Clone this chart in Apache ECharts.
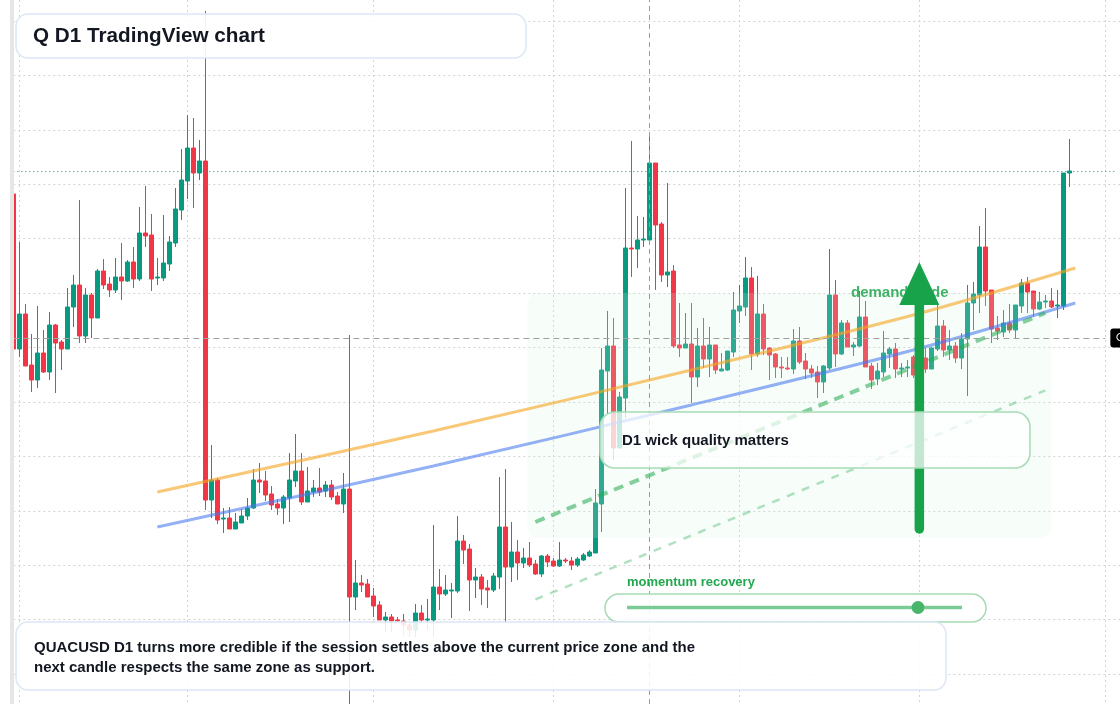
<!DOCTYPE html>
<html>
<head>
<meta charset="utf-8">
<script src="https://cdn.jsdelivr.net/npm/echarts@6/dist/echarts.min.js"></script>
<style>
html,body{margin:0;padding:0;background:#ffffff;}
#chart{width:1120px;height:704px;}
</style>
</head>
<body>
<div id="chart"></div>
<script>
// ---------- DATA ----------
// daily categories: 2025-01-31 .. 2025-08-03 (candles up to 2025-07-26)
const firstDay = '2025-01-31';
const dayCount = 185;

const opens = [
91.0,75.5,79.0,73.9,72.4,75.1,73.2,77.9,76.2,75.5,
79.7,81.9,76.8,80.9,78.6,83.3,82.0,81.4,82.7,82.3,
84.2,82.5,87.1,86.9,82.6,82.6,84.0,86.1,89.4,92.3,
95.6,93.1,94.3,60.4,62.4,58.5,58.6,57.5,58.1,58.8,
59.6,62.4,62.3,61.0,60.0,59.6,60.6,62.3,63.3,60.2,
61.2,61.6,61.3,61.9,60.8,60.0,61.5,50.7,52.1,52.0,
50.8,49.9,48.4,48.7,48.4,48.3,47.9,47.4,49.1,48.4,
48.4,51.7,51.0,51.3,51.3,56.3,55.5,52.4,52.7,51.6,
51.4,52.7,57.7,53.7,55.2,54.1,54.6,54.0,53.0,54.8,
54.3,53.8,54.4,54.3,53.9,54.4,54.8,55.1,60.0,73.3,
75.8,65.6,70.6,85.6,85.5,86.4,86.4,94.1,88.0,82.9,
83.3,75.9,75.6,76.0,72.7,75.8,74.5,75.9,73.3,73.4,
75.2,79.3,79.7,82.6,75.0,79.0,75.6,75.0,73.7,73.6,
73.5,76.3,74.3,73.5,73.2,72.2,73.6,80.9,75.0,78.1,
75.7,75.8,78.7,73.8,72.5,73.2,75.0,75.5,73.5,73.6,
74.7,72.9,74.6,73.5,75.5,77.8,75.4,75.8,74.6,76.5,
80.1,80.9,85.7,81.4,77.6,77.2,78.1,77.4,79.8,82.1,
81.3,79.5,80.2,80.3,79.8,79.8,93.1
];
const closes = [
75.5,79.0,73.8,72.4,75.1,73.2,77.9,76.1,75.5,79.7,
81.9,76.8,80.9,78.6,83.3,81.9,81.4,82.7,82.3,84.2,
82.5,87.1,86.8,82.5,82.7,84.1,86.2,89.5,92.4,95.6,
93.1,94.3,60.4,62.4,58.4,58.6,57.5,58.2,58.8,59.6,
62.4,62.2,60.9,59.9,59.6,60.7,62.4,63.3,60.2,61.3,
61.6,61.2,61.9,60.7,60.0,61.5,50.7,52.1,51.9,50.7,
49.8,48.4,48.7,48.3,48.3,47.9,47.4,49.1,48.4,48.5,
51.7,51.0,51.4,51.4,56.3,55.4,52.4,52.7,51.5,51.4,
52.8,57.7,53.7,55.2,54.1,54.6,53.9,53.0,54.8,54.2,
53.8,54.4,54.3,53.9,54.5,54.9,55.2,60.1,73.4,75.8,
65.6,70.7,85.6,85.5,86.4,86.5,94.1,87.9,82.9,83.2,
75.8,75.6,76.0,72.7,75.8,74.5,75.9,73.4,73.5,75.3,
79.4,79.8,82.6,75.0,79.0,75.5,74.9,73.7,73.6,73.5,
76.3,74.2,73.5,73.1,72.2,73.8,80.9,75.0,78.1,75.7,
75.9,78.7,73.7,72.4,73.3,75.1,75.5,73.5,73.6,73.7,
72.9,74.2,73.5,75.6,77.8,75.4,75.8,74.6,76.5,80.1,
81.0,85.7,81.3,77.5,77.3,78.1,77.4,79.9,82.1,81.2,
79.5,80.2,80.3,79.7,79.9,93.1,93.3
];
const lows = [
75.4,74.7,73.8,71.2,71.6,73.1,72.4,71.1,73.4,75.5,
77.7,76.1,76.1,76.6,78.6,81.5,80.7,81.1,80.4,82.2,
81.6,82.3,85.7,81.3,81.9,82.3,83.3,85.7,88.4,90.5,
89.6,92.4,59.4,58.6,58.0,57.1,57.5,57.5,58.1,58.4,
59.5,61.1,60.3,59.4,58.9,58.0,58.2,61.7,59.9,60.2,
60.7,60.8,60.7,60.4,60.0,59.1,39.8,49.4,51.2,50.7,
48.7,48.4,47.2,47.2,48.1,46.9,46.7,46.7,48.1,47.4,
46.7,49.4,50.8,48.6,51.1,54.0,49.3,50.6,49.9,49.6,
51.2,51.5,48.1,52.2,52.4,53.6,53.7,52.9,52.7,53.7,
53.7,53.7,54.1,53.4,53.7,54.3,54.7,55.1,57.2,68.9,
64.4,65.6,68.6,82.7,83.6,85.7,86.1,81.4,82.2,81.7,
75.6,74.7,75.6,70.1,71.7,73.6,72.7,73.0,73.3,73.3,
74.7,78.1,78.8,73.4,74.7,74.9,72.4,72.6,72.6,73.4,
73.0,74.0,72.5,72.6,70.6,71.1,73.4,73.7,74.9,75.7,
74.8,75.7,73.7,71.5,71.9,72.7,73.6,72.6,72.7,72.7,
72.6,72.6,73.1,73.5,75.3,74.7,74.4,74.1,73.5,70.8,
77.4,79.1,79.8,76.1,76.4,76.7,77.1,76.6,79.1,79.1,
78.7,79.4,79.6,79.6,78.6,79.4,91.7
];
const highs = [
91.1,86.2,80.0,77.0,79.8,77.4,79.2,78.0,76.4,81.6,
82.9,90.4,81.6,81.1,83.5,84.5,82.7,84.6,86.1,84.4,
85.7,89.7,91.8,89.0,84.6,88.9,86.8,91.6,95.5,98.9,
98.6,96.4,109.3,65.9,62.6,59.6,59.7,59.1,59.5,60.6,
63.5,64.1,63.3,61.8,60.5,60.9,65.1,67.0,65.1,63.7,
62.4,63.6,62.3,62.4,61.2,63.1,76.9,54.4,52.9,52.5,
51.6,50.3,49.2,49.0,48.7,49.0,48.1,50.0,49.9,50.5,
57.9,53.5,52.9,52.1,58.8,56.9,56.0,53.6,53.0,52.4,
53.1,62.7,63.5,58.2,56.4,55.6,56.2,54.4,54.9,55.0,
54.6,56.2,54.6,54.7,54.7,55.1,55.4,61.5,75.6,79.3,
78.6,71.2,91.6,96.3,88.8,88.7,97.0,94.1,88.2,92.1,
83.9,80.1,79.1,80.1,77.6,78.6,77.7,75.9,75.1,75.3,
81.2,81.9,84.7,83.7,82.8,80.0,75.7,75.1,74.7,74.7,
77.5,77.7,75.1,73.9,73.8,73.9,85.5,82.4,78.4,78.4,
76.2,81.3,80.3,74.1,74.1,77.3,75.7,76.1,74.1,74.4,
74.9,74.9,75.6,75.7,80.1,78.4,77.4,76.2,77.1,81.9,
82.2,87.8,89.6,81.4,78.8,79.4,80.0,79.9,82.5,82.7,
81.3,81.2,80.9,81.6,81.4,93.1,96.5
];

// trend lines: [category index, price]
const resistanceLine = [[24, 61.2], [70, 67.3], [113, 73.4], [150, 78.9], [177, 83.6]];
const supportLine    = [[24, 57.7], [70, 63.8], [113, 69.9], [150, 75.4], [177, 80.1]];
const recoveryUpper  = [[87, 58.2], [172, 79.1]];
const recoveryLower  = [[87, 50.45], [172, 71.36]];

// crosshair
const crossIndex = 106;
const crossPrice = 76.6;
const crossEndIndex = 182;

// demand zone: [start index, end index, low price, high price]
const demandZone = [86, 173, 56.6, 81.1];
// up arrow: [index, base price, tip price]
const demandArrow = [151, 57.5, 84.2];

// ---------- BUILD ----------
const categories = [];
(function () {
  const t0 = Date.parse(firstDay + 'T00:00:00Z');
  for (let i = 0; i < dayCount; i++) {
    categories.push(new Date(t0 + i * 86400000).toISOString().slice(0, 10));
  }
})();
const candles = opens.map((o, i) => [o, closes[i], lows[i], highs[i]]);
const lastClose = closes[closes.length - 1];

const UP = '#089981', DOWN = '#f23645';
const GRID_C = '#d3d3d3';
const FONT = '"Liberation Sans", Arial, Helvetica, sans-serif';

const chart = echarts.init(document.getElementById('chart'), null, { width: 1120, height: 704 });

chart.setOption({
  animation: false,
  backgroundColor: '#ffffff',
  grid: [
    { left: 13.33, right: 2.67, top: 0, bottom: 0 },
    { left: 13.33, right: 0, top: 21, bottom: 30 }
  ],
  xAxis: [
    {
      type: 'category', gridIndex: 0, data: categories, boundaryGap: false,
      axisLine: { show: false }, axisTick: { show: false }, axisLabel: { show: false },
      splitLine: {
        show: true,
        interval: function (idx, val) { return String(val).slice(8) === '01'; },
        lineStyle: { color: GRID_C, width: 1, type: [2, 3] }
      }
    },
    { type: 'value', gridIndex: 1, min: 0, max: 1, show: false }
  ],
  yAxis: [
    { type: 'value', gridIndex: 0, min: 40, max: 110.4, show: false },
    {
      type: 'value', gridIndex: 1, min: 0, max: 12, interval: 1,
      axisLine: { show: false }, axisTick: { show: false }, axisLabel: { show: false },
      splitLine: { show: true, lineStyle: { color: GRID_C, width: 1, type: [2, 3] } }
    }
  ],
  series: [
    {
      name: 'last', type: 'line', xAxisIndex: 0, yAxisIndex: 0, data: [], z: 1,
      markLine: {
        silent: true, symbol: 'none', animation: false,
        label: { show: false },
        lineStyle: { color: UP, width: 1, type: [1, 3] },
        data: [{ yAxis: lastClose }]
      }
    },
    {
      name: 'QUACUSD', type: 'candlestick', xAxisIndex: 0, yAxisIndex: 0,
      data: candles, barWidth: 4.1, clip: false, z: 2,
      itemStyle: { color: UP, color0: DOWN, borderColor: UP, borderColor0: DOWN, borderWidth: 1 }
    },
    {
      name: 'resistance', type: 'line', data: resistanceLine, smooth: 0.3, showSymbol: false, z: 4,
      lineStyle: { color: 'rgba(245,166,35,0.62)', width: 3 }
    },
    {
      name: 'support', type: 'line', data: supportLine, smooth: 0.3, showSymbol: false, z: 4,
      lineStyle: { color: 'rgba(70,120,240,0.58)', width: 3 }
    },
    {
      name: 'recoveryUpper', type: 'line', data: recoveryUpper, showSymbol: false, z: 4,
      lineStyle: { color: 'rgba(34,170,80,0.55)', width: 4, type: [10, 7] }
    },
    {
      name: 'recoveryLower', type: 'line', data: recoveryLower, showSymbol: false, z: 4,
      lineStyle: { color: 'rgba(34,170,80,0.35)', width: 2.5, type: [8, 8] }
    },
    {
      name: 'crosshair', type: 'line', data: [], z: 45,
      markLine: {
        silent: true, symbol: 'none', animation: false,
        data: [
          {
            xAxis: categories[crossIndex],
            lineStyle: { color: '#9a9a9a', width: 1, type: [5, 4] },
            label: { show: false }
          },
          [
            {
              coord: [categories[0], crossPrice],
              lineStyle: { color: '#a0a0a0', width: 1, type: [6, 4] },
              label: {
                show: true, position: 'end', distance: 5,
                formatter: '\u2299 ' + crossPrice.toFixed(2),
                color: '#ffffff', backgroundColor: '#000000',
                padding: [3, 5], borderRadius: 3, fontSize: 13, fontFamily: 'DejaVu Sans'
              }
            },
            { coord: [categories[crossEndIndex], crossPrice] }
          ]
        ]
      }
    }
  ]
});

// ---------- ANNOTATIONS (anchored to data through the axes) ----------
const P = (i, v) => chart.convertToPixel({ xAxisIndex: 0, yAxisIndex: 0 }, [i, v]);
const zTL = P(demandZone[0], demandZone[3]);
const zBR = P(demandZone[1], demandZone[2]);
const aBase = P(demandArrow[0], demandArrow[1]);
const aTip = P(demandArrow[0], demandArrow[2]);
const headH = 43, headW = 20;
const GREEN = '#18a34a';
const BOX_BORDER = '#dce6f6';
const GREEN_BORDER = '#a6dbb5';

chart.setOption({
  graphic: [
    { type: 'rect', z: 3, silent: true,
      shape: { x: zTL[0] - 2, y: zTL[1], width: zBR[0] - zTL[0] + 2, height: zBR[1] - zTL[1], r: 12 },
      style: { fill: 'rgba(214,243,223,0.19)' } },
    { type: 'text', z: 5, silent: true, x: 851, y: 293,
      style: { text: 'demand node', font: 'bold 15px ' + FONT, fill: 'rgba(30,165,75,0.85)', textVerticalAlign: 'middle' } },
    { type: 'line', z: 6, silent: true,
      shape: { x1: aBase[0], y1: aBase[1], x2: aTip[0], y2: aTip[1] + headH - 2 },
      style: { stroke: GREEN, lineWidth: 9.5, lineCap: 'round' } },
    { type: 'polygon', z: 6, silent: true,
      shape: { points: [[aTip[0] - headW, aTip[1] + headH], [aTip[0] + headW, aTip[1] + headH], [aTip[0], aTip[1]]] },
      style: { fill: GREEN } },

    // D1 wick box
    { type: 'rect', z: 8, silent: true,
      shape: { x: 600, y: 412, width: 430, height: 56, r: 15 },
      style: { fill: 'rgba(255,255,255,0.74)', stroke: GREEN_BORDER, lineWidth: 1.5 } },
    { type: 'text', z: 9, silent: true, x: 622, y: 441,
      style: { text: 'D1 wick quality matters', font: 'bold 15px ' + FONT, fill: '#131722', textVerticalAlign: 'middle' } },

    // momentum recovery
    { type: 'text', z: 9, silent: true, x: 627, y: 582,
      style: { text: 'momentum recovery', font: 'bold 13px ' + FONT, fill: '#22a84f', textVerticalAlign: 'middle' } },
    { type: 'rect', z: 8, silent: true,
      shape: { x: 605, y: 594, width: 381, height: 28, r: 14 },
      style: { fill: 'rgba(255,255,255,0.9)', stroke: GREEN_BORDER, lineWidth: 1.5 } },
    { type: 'line', z: 9, silent: true,
      shape: { x1: 627, y1: 607.5, x2: 962, y2: 607.5 },
      style: { stroke: 'rgba(34,170,80,0.6)', lineWidth: 3.5 } },
    { type: 'circle', z: 10, silent: true,
      shape: { cx: 918, cy: 607.5, r: 6.5 },
      style: { fill: '#47b56a' } },

    // title box
    { type: 'rect', z: 40, silent: true,
      shape: { x: 16, y: 14, width: 510, height: 44, r: 12 },
      style: { fill: 'rgba(255,255,255,0.9)', stroke: BOX_BORDER, lineWidth: 1.5 } },
    { type: 'text', z: 41, silent: true, x: 33, y: 36.5,
      style: { text: 'Q D1 TradingView chart', font: 'bold 20.7px ' + FONT, fill: '#131722', textVerticalAlign: 'middle' } },

    // bottom commentary box
    { type: 'rect', z: 40, silent: true,
      shape: { x: 16, y: 622, width: 930, height: 68, r: 12 },
      style: { fill: 'rgba(255,255,255,0.87)', stroke: BOX_BORDER, lineWidth: 1.5 } },
    { type: 'text', z: 41, silent: true, x: 34, y: 648,
      style: { text: 'QUACUSD D1 turns more credible if the session settles above the current price zone and the', font: 'bold 15px ' + FONT, fill: '#131722', textVerticalAlign: 'middle' } },
    { type: 'text', z: 41, silent: true, x: 34, y: 668,
      style: { text: 'next candle respects the same zone as support.', font: 'bold 15px ' + FONT, fill: '#131722', textVerticalAlign: 'middle' } },

    // left edge strip
    { type: 'rect', z: 50, silent: true,
      shape: { x: 10, y: 0, width: 4, height: 704 },
      style: { fill: '#e6e6e6' } }
  ]
});
</script>
</body>
</html>
